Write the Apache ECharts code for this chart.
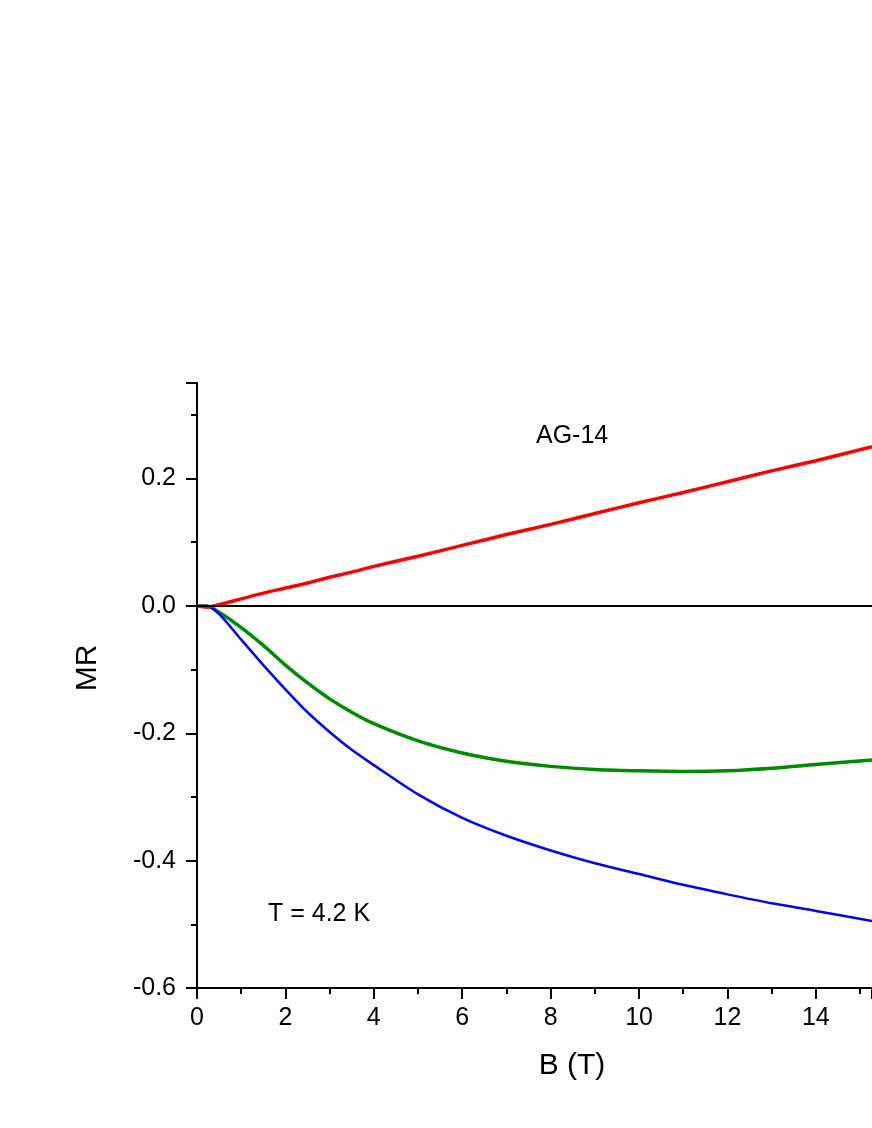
<!DOCTYPE html>
<html lang="en">
<head>
  <meta charset="UTF-8">
  <title>MR vs B - AG-14</title>
  <script src="https://cdn.jsdelivr.net/npm/echarts@6/dist/echarts.min.js"></script>
  <style>
    html, body { margin: 0; padding: 0; background: #fff; }
    #chart { width: 872px; height: 1128px; }
  </style>
</head>
<body>
  <div id="chart"></div>
  <script>
    // magnetic field (T)
    const bField = [0, 0.22, 0.5, 1, 1.5, 2, 2.5, 3, 3.5, 4, 5, 6, 7, 8, 9, 10, 11, 12, 13, 14, 15.27];
    // red curve
    const mrRed = [0, -0.002, 0.002, 0.011, 0.02, 0.028, 0.036, 0.045, 0.053, 0.062, 0.078, 0.095, 0.112, 0.128, 0.145, 0.162, 0.178, 0.195, 0.212, 0.228, 0.25];
    // green curve
    const mrGreen = [0, 0, -0.01, -0.034, -0.062, -0.093, -0.121, -0.146, -0.167, -0.185, -0.212, -0.231, -0.244, -0.252, -0.257, -0.259, -0.26, -0.259, -0.255, -0.249, -0.242];
    // blue curve
    const mrBlue = [0, 0, -0.013, -0.053, -0.093, -0.131, -0.167, -0.198, -0.226, -0.25, -0.296, -0.333, -0.361, -0.384, -0.404, -0.421, -0.438, -0.453, -0.467, -0.479, -0.495];

    const yRange = [-0.6, 0.35];
    const xRange = [0, 15.27];

    const pair = vals => bField.map((b, i) => [b, vals[i]]);
    const font = '"Liberation Sans", Arial, sans-serif';
    const tickStyle = { color: '#000', width: 2 };

    const chart = echarts.init(document.getElementById('chart'));
    chart.setOption({
      animation: false,
      backgroundColor: '#fff',
      grid: { left: 197, right: 0, top: 383, bottom: 140 },
      xAxis: [{
        type: 'value',
        min: xRange[0], max: xRange[1], interval: 2,
        axisLine: { onZero: false, lineStyle: { color: '#000', width: 2 } },
        axisTick: { inside: false, length: 11, lineStyle: tickStyle },
        minorTick: { show: true, splitNumber: 2, length: 6, lineStyle: tickStyle },
        axisLabel: { fontFamily: font, fontSize: 25, color: '#000', margin: 18, showMaxLabel: false },
        splitLine: { show: false }
      }, {
        type: 'value', position: 'top',
        min: xRange[0], max: xRange[1],
        axisLine: { show: true, lineStyle: { color: '#000', width: 2 } },
        axisTick: { show: false }, axisLabel: { show: false }, splitLine: { show: false }
      }],
      yAxis: {
        type: 'value',
        min: yRange[0], max: yRange[1], interval: 0.2,
        axisLine: { show: true, onZero: false, lineStyle: { color: '#000', width: 2 } },
        axisTick: { inside: false, length: 11, lineStyle: tickStyle },
        minorTick: { show: true, splitNumber: 2, length: 6, lineStyle: tickStyle },
        axisLabel: { fontFamily: font, fontSize: 25, color: '#000', margin: 21, showMaxLabel: false,
          formatter: v => v.toFixed(1) },
        splitLine: { show: false }
      },
      series: [
        {
          type: 'line', data: pair(mrRed), smooth: 0.3, showSymbol: false,
          lineStyle: { color: '#ff0000', width: 3.5 }, z: 4,
          markLine: {
            silent: true, symbol: 'none', label: { show: false },
            lineStyle: { color: '#000', width: 2, type: 'solid' },
            data: [{ yAxis: 0 }]
          }
        },
        {
          type: 'line', data: pair(mrGreen), smooth: 0.3, showSymbol: false,
          lineStyle: { color: '#008c00', width: 3.5 }, z: 3
        },
        {
          type: 'line', data: pair(mrBlue), smooth: 0.3, showSymbol: false,
          lineStyle: { color: '#0000ff', width: 2.5 }, z: 3
        }
      ],
      graphic: [
        { type: 'text', x: 536, y: 436,
          style: { text: 'AG-14', font: '25px ' + font, fill: '#000', align: 'left', verticalAlign: 'middle' } },
        { type: 'text', x: 268, y: 914,
          style: { text: 'T = 4.2 K', font: '25px ' + font, fill: '#000', align: 'left', verticalAlign: 'middle' } },
        { type: 'text', x: 572, y: 1066,
          style: { text: 'B (T)', font: '30px ' + font, fill: '#000', align: 'center', verticalAlign: 'middle' } },
        { type: 'text', x: 88, y: 668, rotation: Math.PI / 2,
          style: { text: 'MR', font: '30px ' + font, fill: '#000', align: 'center', verticalAlign: 'middle' } }
      ]
    });
  </script>
</body>
</html>
